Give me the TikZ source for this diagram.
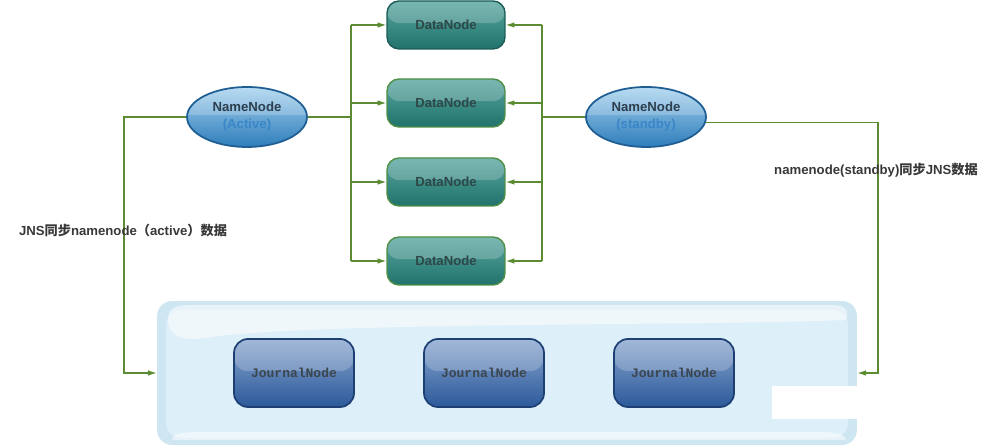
\documentclass[tikz,border=0pt]{standalone}
\usepackage{fontspec}
\setmainfont{Liberation Sans}
\newfontfamily\cjk{Noto Sans CJK SC}
\newfontfamily\jmono{Liberation Mono}
\usetikzlibrary{arrows.meta, shapes.geometric}
\definecolor{wire}{HTML}{5B8C32}
\definecolor{dnline}{HTML}{4F8F45}
\definecolor{dntop}{HTML}{58A59F}
\definecolor{dnbot}{HTML}{22736D}
\definecolor{dntext}{HTML}{2E4848}
\definecolor{nnline}{HTML}{1F5E92}
\definecolor{nntop}{HTML}{A6D2EE}
\definecolor{nnbot}{HTML}{2E7DBB}
\definecolor{nntext}{HTML}{2D3E4E}
\definecolor{nnsub}{HTML}{3A86C8}
\definecolor{jnline}{HTML}{1D3F73}
\definecolor{jntop}{HTML}{8AA6CF}
\definecolor{jnbot}{HTML}{2B5A9A}
\definecolor{jntext}{HTML}{3C464E}
\definecolor{contfill}{HTML}{CDE6F2}
\definecolor{continner}{HTML}{DDEFF8}
\definecolor{labeltext}{HTML}{383838}
\begin{document}
\begin{tikzpicture}[
    x=0.02cm, y=-0.02cm,
    gloss/.style={path picture={\fill[white, opacity=0.2] (path picture bounding box.north west) rectangle ([yshift=1pt]path picture bounding box.east);}},
    dnode/.style={rectangle, rounded corners=0.24cm, minimum width=2.36cm, minimum height=0.96cm, draw=dnline, line width=0.8pt, top color=dntop, bottom color=dnbot, gloss, font=\bfseries\fontsize{7.5}{9}\selectfont\color{dntext}},
    nnode/.style={ellipse, minimum width=2.4cm, minimum height=1.2cm, inner sep=0pt, draw=nnline, line width=1pt, top color=nntop, bottom color=nnbot, gloss, align=center, font=\bfseries\fontsize{7.5}{9.6}\selectfont\color{nntext}},
    jnode/.style={rectangle, rounded corners=0.28cm, minimum width=2.4cm, minimum height=1.36cm, draw=jnline, line width=1pt, top color=jntop, bottom color=jnbot, gloss, font=\jmono\bfseries\fontsize{7.4}{9}\selectfont\color{jntext}},
    arrow/.style={-{Latex[length=5pt, width=3.2pt]}, draw=wire, line width=0.7pt},
    wireline/.style={draw=wire, line width=0.7pt},
    label/.style={font=\bfseries\fontsize{7.5}{9}\selectfont\color{labeltext}}
]
\useasboundingbox (0,0) rectangle (993,448);

% JournalNode cluster
\node[rectangle, rounded corners=0.3cm, minimum width=14cm, minimum height=2.88cm, fill=contfill] at (507,373) (jns) {};
\fill[continner, rounded corners=0.3cm] (166,310) rectangle (848,438);
\fill[white, opacity=0.55] (168,320) .. controls (168,307) and (176,305) .. (192,305) -- (832,305) .. controls (846,305) and (850,312) .. (846,320) .. controls (700,326) and (300,322) .. (205,338) .. controls (180,342) and (168,334) .. (168,320);
\fill[white, opacity=0.5] (172,440) .. controls (172,434) and (180,432) .. (200,432) -- (820,432) .. controls (840,432) and (846,436) .. (846,440) -- cycle;

\node[jnode] at (294,373) (jn1) {JournalNode};
\node[jnode] at (484,373) (jn2) {JournalNode};
\node[jnode] at (674,373) (jn3) {JournalNode};
\fill[white] (772,386) rectangle (857,419);

% DataNodes
\node[dnode, draw=dnbot!80!black] at (446,25) (dn1) {DataNode};
\node[dnode] at (446,103) (dn2) {DataNode};
\node[dnode] at (446,182) (dn3) {DataNode};
\node[dnode] at (446,261) (dn4) {DataNode};

% NameNodes
\node[nnode] at (247,117) (active) {NameNode\\{\color{nnsub}(Active)}};
\node[nnode] at (646,117) (standby) {NameNode\\{\color{nnsub}(standby)}};

% Buses to DataNodes
\coordinate (lb) at (351,117);
\coordinate (rb) at (542,117);
\draw[wireline] (active) -- (lb);
\draw[wireline] (lb |- dn1.west) -- (lb |- dn4.west);
\draw[arrow] (lb |- dn1.west) -- (dn1.west);
\draw[arrow] (lb |- dn2.west) -- (dn2.west);
\draw[arrow] (lb |- dn3.west) -- (dn3.west);
\draw[arrow] (lb |- dn4.west) -- (dn4.west);
\draw[wireline] (standby) -- (rb);
\draw[wireline] (rb |- dn1.east) -- (rb |- dn4.east);
\draw[arrow] (rb |- dn1.east) -- (dn1.east);
\draw[arrow] (rb |- dn2.east) -- (dn2.east);
\draw[arrow] (rb |- dn3.east) -- (dn3.east);
\draw[arrow] (rb |- dn4.east) -- (dn4.east);

% Sync with JournalNodes
\coordinate (lc) at (124,373);
\coordinate (rc) at (878,373);
\draw[arrow] (active.west) -| (lc) -- (jns.west);
\draw[arrow] (standby.-5) -| (rc) -- (jns.east);

% Annotations
\node[label] at (123,230) (lsync) {JNS{\cjk 同步}namenode{\cjk （}active{\cjk ）数据}};
\node[label] at (876,170) (rsync) {namenode(standby){\cjk 同步}JNS{\cjk 数据}};

\end{tikzpicture}
\end{document}
